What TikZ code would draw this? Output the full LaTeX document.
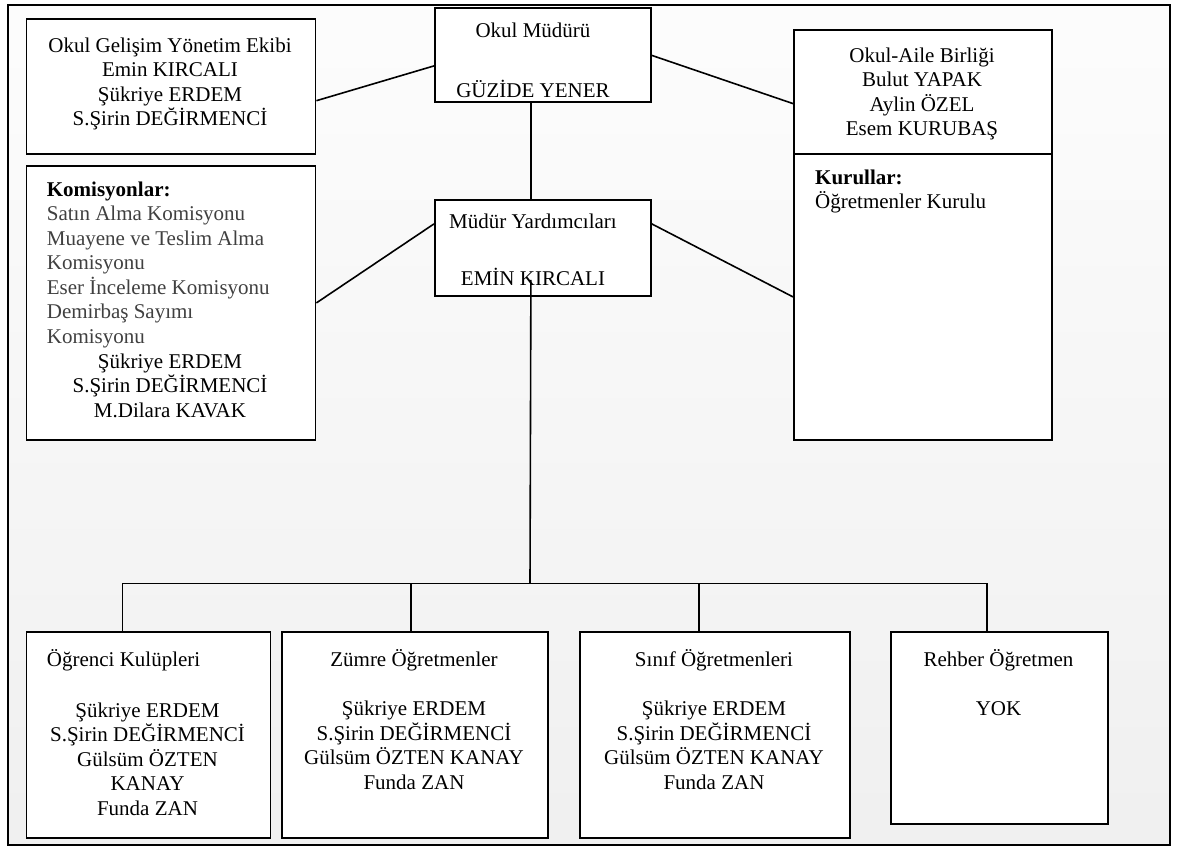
\documentclass[tikz,border=0pt]{standalone}
\usepackage{fontspec}
\setmainfont{Liberation Serif}
\usetikzlibrary{positioning}

\begin{document}
\begin{tikzpicture}[x=1pt,y=-1pt]
\tikzset{box/.style={rectangle, draw, fill=white, line width=1.8pt, anchor=north west, inner sep=0pt},
		txt/.style={align=center, inner sep=0pt, font=\fontsize{21}{24.5}\selectfont},
		ltxt/.style={txt, align=left, anchor=north west},
		link/.style={line width=1.6pt}}
\useasboundingbox (0,0) rectangle (1177,848);
% frame
\fill[top color=black!1, bottom color=black!6] (8,5) rectangle (1170,845);
\draw[line width=1.8pt] (8,5) rectangle (1170,845);
% boxes
\node[box, minimum width=289pt, minimum height=135pt] (ogye) at (25.6,18.3) {};
\node[box, minimum width=216pt, minimum height=94pt] (mudur) at (434,7.5) {};
\node[box, minimum width=258pt, minimum height=124pt] (veli) at (793,29) {};
\node[box, minimum width=258pt, minimum height=286pt] (kurul) at (793,153) {};
\node[box, minimum width=289pt, minimum height=274pt] (komisyon) at (25.6,165) {};
\node[box, minimum width=216pt, minimum height=96pt] (yard) at (434,199) {};
\node[box, minimum width=244pt, minimum height=206pt] (kulup) at (25.6,631) {};
\node[box, minimum width=266pt, minimum height=206pt] (zumre) at (281,631) {};
\node[box, minimum width=270pt, minimum height=206pt] (sinif) at (579,631) {};
\node[box, minimum width=217pt, minimum height=192pt] (rehber) at (890,631) {};
% texts
\node[txt, anchor=north] (ogyeT) at (170,37.5) {Okul Gelişim Yönetim Ekibi\\Emin KIRCALI\\Şükriye ERDEM\\S.Şirin DEĞİRMENCİ};
\node[txt, anchor=north] (mudurT) at (533,22.5) {Okul Müdürü\\[35.5pt]GÜZİDE YENER};
\node[txt, anchor=north] (veliT) at (922,47.5) {Okul-Aile Birliği\\Bulut YAPAK\\Aylin ÖZEL\\Esem KURUBAŞ};
\node[ltxt] (kurulT) at (815,169.5) {\textbf{Kurullar:}\\Öğretmenler Kurulu};
\node[ltxt] (komisyonT) at (46.7,181.5) {\textbf{Komisyonlar:}\\\color{black!75}Satın Alma Komisyonu\\\color{black!75}Muayene ve Teslim Alma\\\color{black!75}Komisyonu\\\color{black!75}Eser İnceleme Komisyonu\\\color{black!75}Demirbaş Sayımı\\\color{black!75}Komisyonu};
\node[txt, anchor=north] (komisyonN) at (170,353.5) {Şükriye ERDEM\\S.Şirin DEĞİRMENCİ\\M.Dilara KAVAK};
\node[txt, anchor=north] (yardT) at (533,214) {Müdür Yardımcıları\\[32.5pt]EMİN KIRCALI};
\node[ltxt] (kulupT) at (46.7,649.5) {Öğrenci Kulüpleri};
\node[txt, anchor=north] (kulupN) at (147.5,702.5) {Şükriye ERDEM\\S.Şirin DEĞİRMENCİ\\Gülsüm ÖZTEN\\KANAY\\Funda ZAN};
\node[txt, anchor=north] (zumreT) at (414,649.5) {Zümre Öğretmenler\\[24.5pt]Şükriye ERDEM\\S.Şirin DEĞİRMENCİ\\Gülsüm ÖZTEN KANAY\\Funda ZAN};
\node[txt, anchor=north] (sinifT) at (714,649.5) {Sınıf Öğretmenleri\\[24.5pt]Şükriye ERDEM\\S.Şirin DEĞİRMENCİ\\Gülsüm ÖZTEN KANAY\\Funda ZAN};
\node[txt, anchor=north] (rehberT) at (998.5,649.5) {Rehber Öğretmen\\[24.5pt]YOK};
% links
\draw[link] ([yshift=-14pt]ogye.east) -- ([yshift=-10.5pt]mudur.west);
\draw[link] (mudur.east) -- ([yshift=-11.7pt]veli.west);
\draw[link] (komisyon.east) -- ([yshift=24pt]yard.west);
\draw[link] ([yshift=24pt]yard.east) -- (kurul.west);
\draw[link] ([xshift=-12pt]mudur.south) -- ([xshift=-12pt]yard.north);
\coordinate (bus) at (530,583.3);
\draw[link] ([xshift=-12pt,yshift=17pt]yard.south) -- (bus);
\draw[link] ([xshift=-26pt]kulup.north) |- (bus) -| ([xshift=-12.5pt]rehber.north);
\draw[link] ([xshift=-4pt]zumre.north) |- (bus);
\draw[link] ([xshift=-16pt]sinif.north) |- (bus);
\end{tikzpicture}
\end{document}
